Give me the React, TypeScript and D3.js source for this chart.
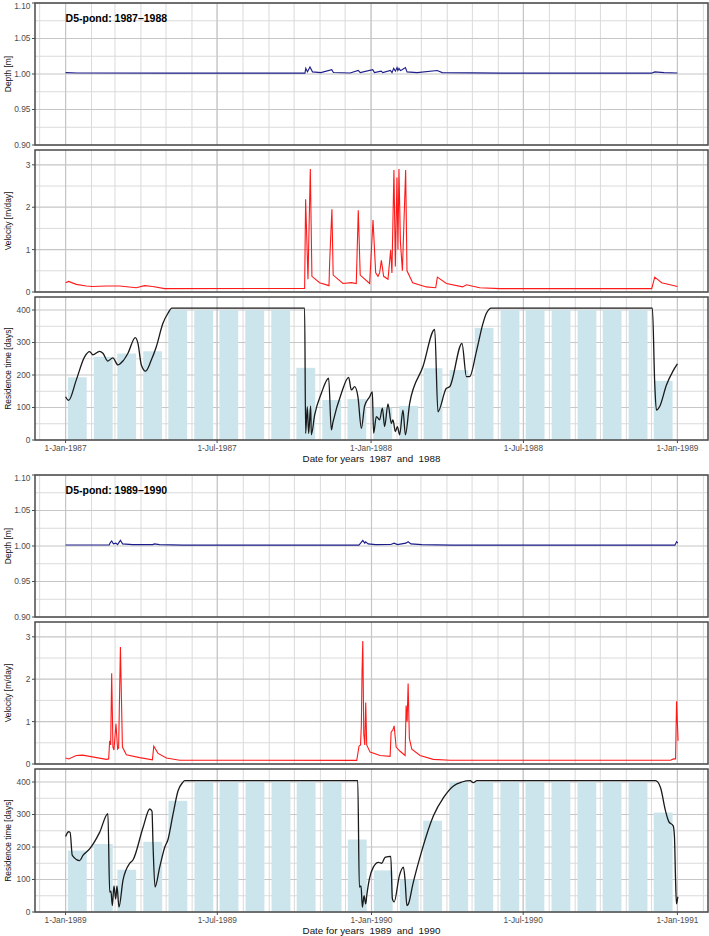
import React from 'react';
import * as d3 from 'd3';

// all series are [day since 1 Jan of the first year, value]

// 1987-1988
const depth8788: [number, number][] = [
  [0, 1.002], [14, 1.0015], [118, 1.0012], [286, 1.0012], [287, 1.008], [289, 1.003], [292, 1.01],
  [295, 1.003], [305, 1.002], [318, 1.006], [320, 1.002], [340, 1.0015], [349.7, 1.005], [352, 1.002],
  [367, 1.006], [369, 1.002], [377, 1.004], [379, 1.002], [388, 1.005], [390, 1.002], [392, 1.008],
  [394, 1.004], [396, 1.009], [397, 1.005], [398.3, 1.008], [400, 1.005], [402, 1.006], [406, 1.009],
  [408, 1.003], [420, 1.002], [444, 1.005], [450, 1.002], [520, 1.0012], [700, 1.0012], [704, 1.003],
  [715, 1.002], [731, 1.0015],
];

const velocity8788: [number, number][] = [
  [0, 0.22], [3.6, 0.25], [12.8, 0.18], [24.7, 0.14], [32, 0.13], [48.6, 0.14], [64.5, 0.14],
  [84.5, 0.1], [94.4, 0.15], [104, 0.13], [118.3, 0.08], [285.6, 0.085], [286.8, 2.19], [289.6, 0.3],
  [292.4, 2.9], [294.3, 0.37], [303.5, 0.22], [314.7, 0.15], [315.5, 0.7], [318.2, 1.95], [319.7, 0.4],
  [331.4, 0.2], [341.4, 0.22], [347.3, 0.2], [349.7, 1.93], [352, 0.4], [363.3, 0.2], [367.3, 1.7],
  [370.5, 0.45], [373.3, 0.37], [375.2, 0.45], [377.3, 0.75], [380, 0.37], [385.2, 0.3], [388.4, 0.99],
  [389.9, 0.45], [392.3, 2.88], [394, 0.6], [395.9, 2.7], [397.1, 1.0], [398.3, 2.9], [400, 1.2],
  [402.4, 0.5], [406.3, 2.88], [407.9, 0.5], [414.7, 0.22], [431, 0.12], [442.2, 0.1], [444.2, 0.35],
  [455, 0.2], [474.4, 0.12], [478.8, 0.17], [494.7, 0.1], [518.6, 0.08], [700.3, 0.08], [703.9, 0.35],
  [712.2, 0.22], [731, 0.13],
];

const residence8788: [number, number][] = [
  [0, 133], [3.6, 122], [12.8, 185], [22.7, 256], [28.7, 272], [32.6, 262], [40.6, 273], [44.6, 267],
  [50.5, 243], [56.5, 253], [62.5, 231], [68.5, 243], [74.5, 267], [83.3, 315], [86.4, 298], [90.5, 231],
  [95.6, 212], [102.4, 246], [108.4, 287], [116.3, 359], [122.3, 390], [127, 406], [285.6, 406],
  [286.8, 20], [288.8, 103], [290.4, 20], [292.8, 105], [293.6, 16], [297.6, 77], [305.6, 144],
  [314.3, 190], [317.5, 31], [319.4, 54], [329.5, 144], [338.2, 193], [341.4, 154], [345.4, 164],
  [349.3, 133], [353.4, 36], [357.3, 105], [363.3, 133], [366.5, 148], [368, 21], [371.3, 72],
  [375.2, 62], [378.5, 98], [381.2, 41], [385.2, 111], [389.2, 51], [391.1, 62], [394, 26], [396.4, 41],
  [399.1, 16], [403.1, 92], [406, 16], [411.1, 113], [427, 226], [441, 340], [444.9, 87], [454.9, 159],
  [458.9, 164], [473.6, 297], [478.9, 195], [482.8, 195], [490.8, 272], [498.7, 359], [502.8, 390],
  [508.7, 406], [701.1, 406], [703.9, 174], [705.9, 92], [709.8, 103], [717.9, 169], [725.7, 212],
  [731, 234],
];

const monthly8788 = [193, 256, 266, 273, 400, 400, 400, 400, 400, 222, 123, 126,
  100, 105, 221, 215, 345, 400, 400, 400, 400, 400, 400, 182];

// 1989-1990
const depth8990: [number, number][] = [
  [0, 1.0015], [52, 1.0015], [53, 1.004], [55, 1.007], [57, 1.003], [60, 1.004], [62, 1.002],
  [65.4, 1.008], [68, 1.003], [80, 1.002], [104, 1.002], [106, 1.003], [112, 1.002], [140, 1.0012],
  [350, 1.0012], [352, 1.004], [354.6, 1.008], [357, 1.004], [358, 1.006], [361, 1.003], [370, 1.002],
  [388, 1.0022], [392, 1.004], [396, 1.002], [406, 1.004], [408.7, 1.006], [412, 1.003], [425, 1.002],
  [460, 1.0012], [727, 1.0012], [729, 1.006], [730.5, 1.004],
];

const velocity8990: [number, number][] = [
  [0, 0.14], [3.6, 0.12], [12.8, 0.2], [20.3, 0.21], [48.6, 0.11], [51.4, 0.12], [52.6, 0.55],
  [53.8, 0.45], [55, 2.14], [56.5, 0.4], [57.7, 0.33], [60.1, 0.95], [62.1, 0.35], [63.3, 0.38],
  [65.4, 2.76], [67.8, 0.4], [72.5, 0.22], [88.4, 0.15], [103.6, 0.1], [105.2, 0.42], [110.3, 0.25],
  [120.3, 0.14], [136.2, 0.09], [347.4, 0.085], [350.1, 0.42], [351.9, 0.45], [352.9, 0.92],
  [353.7, 2.16], [354.6, 2.9], [355.8, 0.7], [357, 0.45], [358.1, 1.45], [359.3, 0.45], [363.3, 0.28],
  [375.2, 0.2], [387.2, 0.18], [388.4, 0.75], [390.4, 0.8], [392, 0.9], [394.4, 0.4], [399.1, 0.3],
  [405.1, 0.2], [406.3, 1.38], [407.5, 1.0], [408.7, 1.9], [410.2, 0.6], [413.1, 0.35], [423, 0.2],
  [438.6, 0.11], [458.9, 0.09], [721.8, 0.09], [725.4, 0.12], [727.8, 0.12], [729, 1.48], [730.8, 0.55],
];

const residence8990: [number, number][] = [
  [0, 232], [3.6, 247], [5.4, 245], [8, 174], [16.7, 158], [20.7, 174], [28.7, 194], [40.6, 245],
  [50.5, 303], [52.6, 61], [54.1, 64], [55.8, 20], [57.7, 80], [59.8, 40], [61.3, 80], [63.7, 15],
  [68.5, 98], [76.5, 150], [80.4, 160], [92.4, 260], [100.4, 317], [103.1, 310], [104.3, 210],
  [106.7, 77], [112.3, 138], [118.3, 199], [122.3, 224], [128.2, 301], [134.2, 373], [139.5, 398],
  [142.2, 404], [348.6, 404], [350.5, 77], [352.5, 80], [354.1, 15], [356.1, 50], [358.1, 25],
  [359.3, 50], [362.5, 102], [367.2, 138], [373.2, 153], [377.2, 150], [381.2, 168], [388, 171],
  [389.9, 41], [392, 31], [398.3, 112], [403.1, 138], [405.1, 97], [407.2, 20], [409.1, 25],
  [414.3, 85], [425.1, 189], [438.9, 296], [450.9, 352], [462.8, 388], [472.9, 400], [482.8, 404],
  [486.4, 398], [490.8, 404], [703.9, 404], [709.8, 383], [715.8, 311], [719.7, 278], [725, 265],
  [726.5, 230], [727.7, 107], [728.9, 25], [730.5, 47],
];

const monthly8990 = [189, 209, 130, 216, 342, 400, 400, 400, 400, 400, 400, 223,
  128, 100, 281, 400, 400, 400, 400, 400, 400, 400, 400, 306];

const periods = [
  { startYear: 1987, title: 'D5-pond: 1987\u20131988', depth: depth8788, velocity: velocity8788, residence: residence8788, monthly: monthly8788 },
  { startYear: 1989, title: 'D5-pond: 1989\u20131990', depth: depth8990, velocity: velocity8990, residence: residence8990, monthly: monthly8990 },
];

const W = 709;
const H = 936;
const LEFT = 35;
const RIGHT = 708;
const GROUP_H = 472;
const DAY = 86400000;
const FONT = 'Liberation Sans, Arial, sans-serif';
const MAJOR = '#c6c6c6';
const MINOR = '#dadada';
const BORDER = '#4a4a4a';
const TICK_TXT = '#4d4d4d';

const fmtDate = d3.utcFormat('%-d-%b-%Y');

function Group({ p, y0 }: { p: typeof periods[0]; y0: number }) {
  const start = Date.UTC(p.startYear, 0, 1);
  const end = Date.UTC(p.startYear + 2, 0, 1);
  const pad = (end - start) * 0.05;
  const x = d3.scaleUtc().domain([new Date(start - pad), new Date(end + pad)]).range([LEFT, RIGHT]);
  const toDate = (d: number) => new Date(start + d * DAY);
  const majorX = d3.utcMonth.every(6)!.range(new Date(start), new Date(end + 1));
  const minorX = d3.utcMonth.range(new Date(start - pad), new Date(end + pad));

  const panels = [
    { key: 'depth', top: 3, bottom: 145, domain: [0.9, 1.1], major: [0.9, 0.95, 1.0, 1.05, 1.1], minor: [0.925, 0.975, 1.025, 1.075], fmt: d3.format('.2f'), label: 'Depth [m]' },
    { key: 'velocity', top: 150, bottom: 292, domain: [0, 3.35], major: [0, 1, 2, 3], minor: [0.5, 1.5, 2.5], fmt: d3.format('d'), label: 'Velocity [m/day]' },
    { key: 'residence', top: 297, bottom: 440, domain: [0, 440], major: [0, 100, 200, 300, 400], minor: [50, 150, 250, 350], fmt: d3.format('d'), label: 'Residence time [days]' },
  ];

  return (
    <g transform={`translate(0,${y0})`}>
      {panels.map((pn) => {
        const y = d3.scaleLinear().domain(pn.domain).range([pn.bottom, pn.top]);
        const clipId = `clip-${p.startYear}-${pn.key}`;
        const mid = (pn.top + pn.bottom) / 2;
        let content: React.ReactNode = null;
        if (pn.key === 'depth') {
          const line = d3.line<[number, number]>().x((d) => x(toDate(d[0]))).y((d) => y(d[1]));
          content = <path d={line(p.depth) || ''} fill="none" stroke="#1c1c8a" strokeWidth={1.1} />;
        } else if (pn.key === 'velocity') {
          const line = d3.line<[number, number]>().x((d) => x(toDate(d[0]))).y((d) => y(d[1]));
          content = <path d={line(p.velocity) || ''} fill="none" stroke="#ff1a1a" strokeWidth={1.1} />;
        } else {
          const line = d3.line<[number, number]>().x((d) => x(toDate(d[0]))).y((d) => y(d[1])).curve(d3.curveMonotoneX);
          content = (
            <g>
              {p.monthly.map((v, i) => {
                const m = Date.UTC(p.startYear, i, 1) + 14 * DAY;
                const x0 = x(new Date(m - 11.25 * DAY));
                const x1 = x(new Date(m + 11.25 * DAY));
                return <rect key={i} x={x0} y={y(v)} width={x1 - x0} height={y(0) - y(v)} fill="#cce5ec" />;
              })}
              <path d={line(p.residence) || ''} fill="none" stroke="#1a1a1a" strokeWidth={1.3} />
            </g>
          );
        }
        return (
          <g key={pn.key}>
            <defs>
              <clipPath id={clipId}>
                <rect x={LEFT} y={pn.top} width={RIGHT - LEFT} height={pn.bottom - pn.top} />
              </clipPath>
            </defs>
            <rect x={LEFT} y={pn.top} width={RIGHT - LEFT} height={pn.bottom - pn.top} fill="#fff" />
            {pn.minor.map((t) => (
              <line key={`mh${t}`} x1={LEFT} x2={RIGHT} y1={y(t)} y2={y(t)} stroke={MINOR} strokeWidth={1} />
            ))}
            {minorX.map((d) => (
              <line key={`mv${+d}`} x1={x(d)} x2={x(d)} y1={pn.top} y2={pn.bottom} stroke={MINOR} strokeWidth={1} />
            ))}
            {pn.major.map((t) => (
              <line key={`Mh${t}`} x1={LEFT} x2={RIGHT} y1={y(t)} y2={y(t)} stroke={MAJOR} strokeWidth={1.2} />
            ))}
            {majorX.map((d) => (
              <line key={`Mv${+d}`} x1={x(d)} x2={x(d)} y1={pn.top} y2={pn.bottom} stroke={MAJOR} strokeWidth={1.2} />
            ))}
            <g clipPath={`url(#${clipId})`}>{content}</g>
            <rect x={LEFT} y={pn.top} width={RIGHT - LEFT} height={pn.bottom - pn.top} fill="none" stroke={BORDER} strokeWidth={1.5} />
            {pn.major.map((t) => (
              <g key={`yt${t}`}>
                <line x1={LEFT - 3} x2={LEFT} y1={y(t)} y2={y(t)} stroke={BORDER} strokeWidth={1} />
                <text x={LEFT - 4.5} y={Math.max(y(t), 6)} dy="0.35em" textAnchor="end" fontSize={8.4} fill={TICK_TXT} fontFamily={FONT}>
                  {pn.fmt(t)}
                </text>
              </g>
            ))}
            <text transform={`translate(8.5,${mid}) rotate(-90)`} textAnchor="middle" dy="0.35em" fontSize={8.4} fill="#111" fontFamily={FONT}>
              {pn.label}
            </text>
          </g>
        );
      })}
      <text x={x(new Date(start))} y={22} fontSize={10.5} fontWeight="bold" fill="#000" fontFamily={FONT}>
        {p.title}
      </text>
      {majorX.map((d) => (
        <g key={`xt${+d}`}>
          <line x1={x(d)} x2={x(d)} y1={440} y2={443} stroke={BORDER} strokeWidth={1} />
          <text x={x(d)} y={450.5} textAnchor="middle" fontSize={8.3} fill={TICK_TXT} fontFamily={FONT}>
            {fmtDate(d)}
          </text>
        </g>
      ))}
      <text x={(LEFT + RIGHT) / 2} y={461.5} textAnchor="middle" fontSize={9.8} fill="#111" fontFamily={FONT} style={{ whiteSpace: 'pre' }}>
        {`Date for years  ${p.startYear}  and  ${p.startYear + 1}`}
      </text>
    </g>
  );
}

export default function App() {
  return (
    <svg width={W} height={H} style={{ position: 'absolute', left: 0, top: 0, background: '#fff' }}>
      <rect x={0} y={0} width={W} height={H} fill="#fff" />
      {periods.map((p, i) => (
        <Group key={p.startYear} p={p} y0={i * GROUP_H} />
      ))}
    </svg>
  );
}
